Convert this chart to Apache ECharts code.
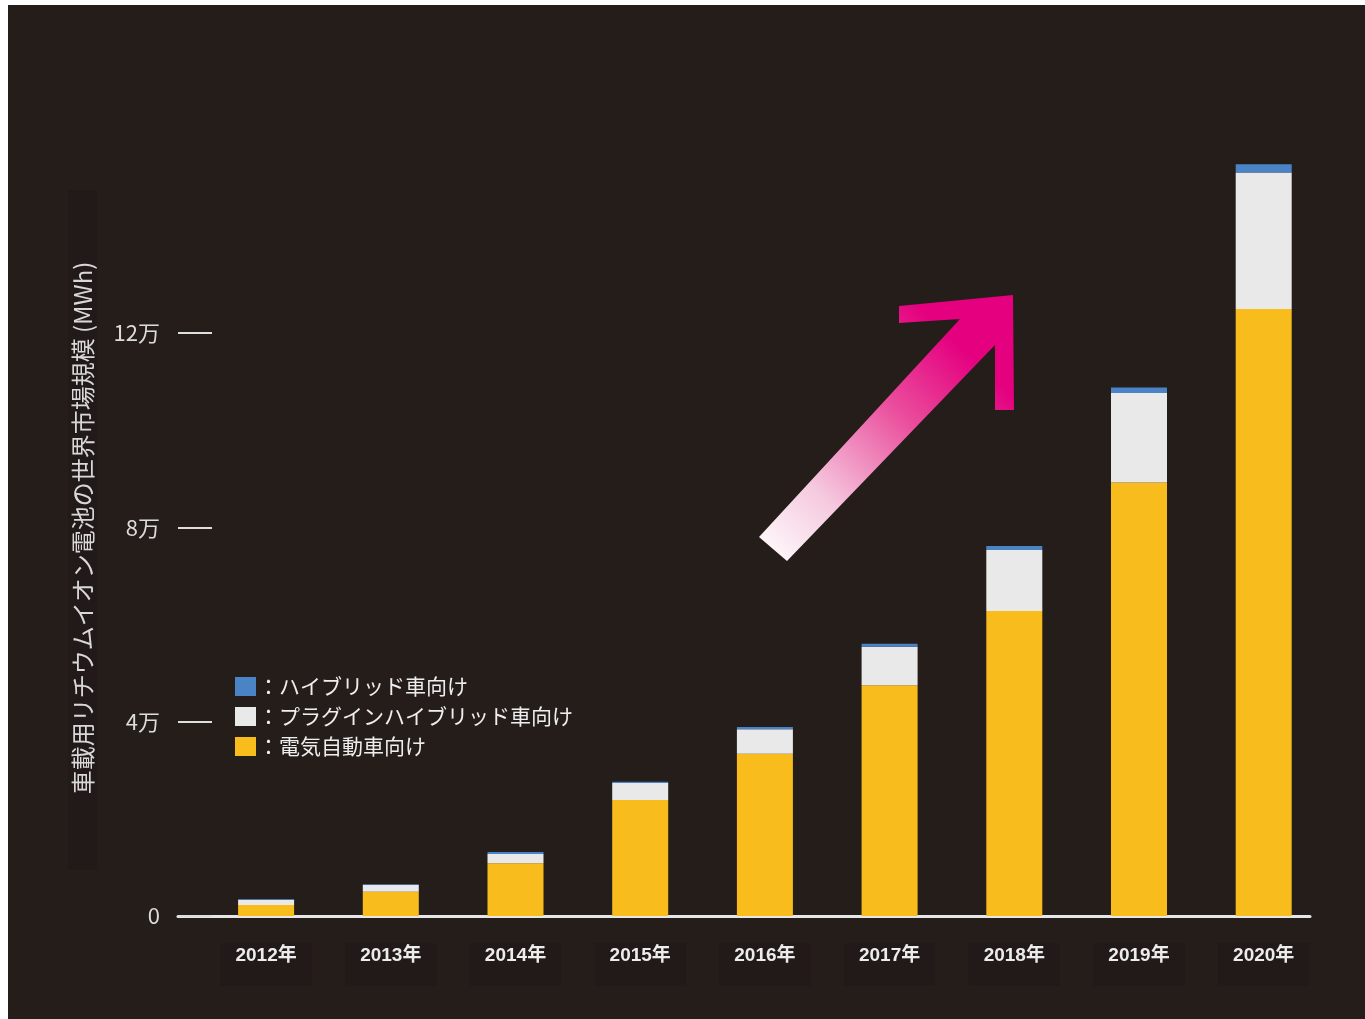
<!DOCTYPE html>
<html>
<head>
<meta charset="utf-8">
<script src="https://cdn.jsdelivr.net/npm/echarts@6/dist/echarts.min.js"></script>
<style>
  html, body { margin: 0; padding: 0; background: #ffffff; }
  #panel { position: absolute; left: 8px; top: 5px; right: 0; bottom: 0; background: #251d1a; }
  #chart { position: absolute; left: 0; top: 0; width: 1365px; height: 1019px; }
</style>
</head>
<body>
<div id="panel"></div>
<div id="chart"></div>
<script>
// Global market size of lithium-ion batteries for vehicles (MWh), by vehicle type
const years = ['2012年', '2013年', '2014年', '2015年', '2016年', '2017年', '2018年', '2019年', '2020年'];
const evValues   = [2260, 5000, 10840, 23870, 33400, 47480, 62770, 89250, 124980];
const phevValues = [1100, 1400, 1900, 3500, 5020, 7940, 12600, 18440, 28070];
const hvValues   = [150, 120, 450, 250, 500, 650, 800, 1100, 1700];

const seriesNames = ['電気自動車向け', 'プラグインハイブリッド車向け', 'ハイブリッド車向け'];
const seriesColors = ['#f8bd1c', '#e9e9ea', '#4a84c6'];

const yTickValues = [0, 40000, 80000, 120000];
const yTickLabels = ['0', '4万', '8万', '12万'];
const yTitle = '車載用リチウムイオン電池の世界市場規模 (MWh)';

const JP = '"Noto Sans CJK JP", "Noto Sans", sans-serif';
const LATIN_JP = '"Liberation Sans", "Noto Sans CJK JP", sans-serif';
const BOX = '#221a18';

const chart = echarts.init(document.getElementById('chart'), null, { renderer: 'canvas' });

const stackData = [evValues, phevValues, hvValues];

const option = {
  backgroundColor: 'transparent',
  animation: false,
  grid: [
    // plotting area for the bars
    { left: 203.75, right: 38.95, top: 138.8, bottom: 103 },
    // frame carrying the baseline and the value ticks
    { left: 178, right: 55, top: 333.1, bottom: 103 }
  ],
  xAxis: [
    {
      type: 'category',
      gridIndex: 0,
      data: years,
      axisLine: { show: false },
      axisTick: { show: false },
      splitLine: { show: false },
      axisLabel: {
        color: '#ececec',
        fontFamily: LATIN_JP,
        fontSize: 19,
        fontWeight: 600,
        margin: 27,
        backgroundColor: BOX,
        padding: [3, 15, 21, 15]
      }
    },
    {
      type: 'value',
      gridIndex: 1,
      min: 0,
      max: 1,
      axisLine: { show: true, lineStyle: { color: '#e6e6e6', width: 3 } },
      axisTick: { show: false },
      axisLabel: { show: false },
      splitLine: { show: false }
    }
  ],
  yAxis: [
    { type: 'value', gridIndex: 0, min: 0, max: 160000, show: false },
    {
      type: 'value',
      gridIndex: 1,
      min: 0,
      max: yTickValues[yTickValues.length - 1],
      interval: yTickValues[1] - yTickValues[0],
      axisLine: { show: false },
      axisTick: { show: true, inside: true, length: 34, lineStyle: { color: '#dedede', width: 2 } },
      splitLine: { show: false },
      axisLabel: {
        color: '#dcdcdc',
        fontFamily: JP,
        fontSize: 22,
        margin: 18,
        formatter: function (v) {
          const i = yTickValues.indexOf(v);
          return i >= 0 ? yTickLabels[i] : '';
        }
      }
    }
  ],
  legend: {
    orient: 'vertical',
    left: 235,
    top: 676,
    padding: 0,
    itemGap: 9,
    itemWidth: 21,
    itemHeight: 19,
    icon: 'rect',
    selectedMode: false,
    data: [seriesNames[2], seriesNames[1], seriesNames[0]],
    formatter: function (name) { return '：' + name; },
    textStyle: { color: '#eeeeee', fontSize: 21, fontFamily: JP, padding: [0, 0, 0, -3] }
  },
  series: seriesNames.map(function (name, i) {
    return {
      name: name,
      type: 'bar',
      stack: 'total',
      xAxisIndex: 0,
      yAxisIndex: 0,
      barWidth: 56,
      data: stackData[i],
      itemStyle: { color: seriesColors[i] }
    };
  }),
  graphic: [
    {
      type: 'rect',
      silent: true,
      shape: { x: 68, y: 190, width: 29, height: 680 },
      style: { fill: BOX },
      z: 0
    },
    {
      type: 'text',
      silent: true,
      x: 83,
      y: 528,
      rotation: Math.PI / 2,
      style: {
        text: yTitle,
        fill: '#d8d8d8',
        font: '24px ' + JP,
        textAlign: 'center',
        textVerticalAlign: 'middle',
        align: 'center',
        verticalAlign: 'middle'
      },
      z: 1
    },
    {
      // rising trend arrow
      type: 'polygon',
      silent: true,
      shape: {
        points: [
          [759, 537], [960, 319], [899, 323], [899, 306], [1013, 295],
          [1014, 410], [995, 410], [995, 345], [787, 561]
        ]
      },
      style: {
        fill: new echarts.graphic.LinearGradient(0, 1, 1, 0, [
          { offset: 0, color: '#ffffff' },
          { offset: 0.25, color: '#f5c8de' },
          { offset: 0.55, color: '#ea4f9d' },
          { offset: 0.8, color: '#e4007f' },
          { offset: 1, color: '#e4007f' }
        ])
      },
      z: 10
    }
  ]
};

chart.setOption(option);
</script>
</body>
</html>
